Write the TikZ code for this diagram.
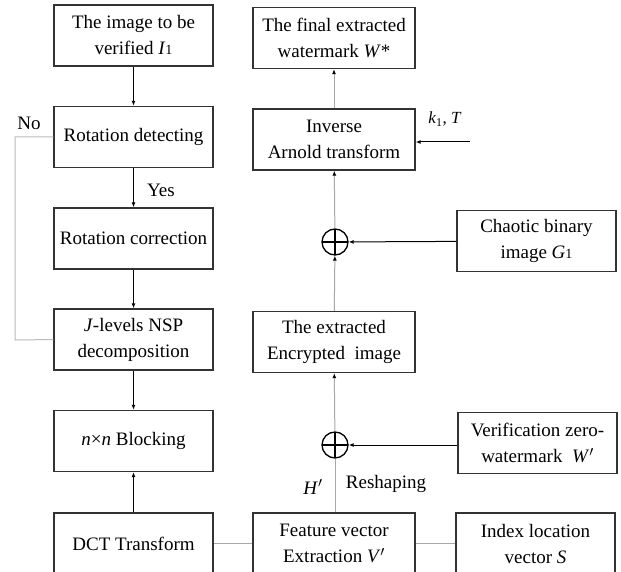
\documentclass[tikz,border=0pt]{standalone}
\usepackage{fontspec}
\setmainfont{Liberation Serif}
\usetikzlibrary{arrows.meta}
\definecolor{boxc}{HTML}{333333}
\definecolor{linec}{HTML}{A8A8A8}
\definecolor{loopc}{HTML}{BBBBBB}
\tikzset{
  box/.style={draw=boxc, line width=1.3pt, minimum height=61pt, inner sep=0pt, align=center, font=\fontsize{19}{26}\selectfont},
  lbox/.style={box, minimum width=159pt},
  mbox/.style={box, minimum width=162pt},
  rbox/.style={box, minimum width=159pt},
  xorc/.style={draw=black, line width=1.3pt, circle, minimum size=26pt, inner sep=0pt, path picture={\draw[line width=1.3pt] (path picture bounding box.north) -- (path picture bounding box.south) (path picture bounding box.west) -- (path picture bounding box.east);}},
  darr/.style={draw=black, line width=1pt, -{Latex[length=5pt,width=4pt]}},
  garr/.style={draw=linec, line width=1pt, -{Latex[length=5pt,width=4pt,color=black]}},
  gline/.style={draw=linec, line width=1pt},
  lbl/.style={font=\fontsize{19}{22}\selectfont, inner sep=0pt}
}
\begin{document}
\begin{tikzpicture}[x=1pt,y=-1pt]
\useasboundingbox (0,0) rectangle (621,572);
\clip (0,0) rectangle (621,572);
\fill[white] (0,0) rectangle (621,572);
% left column
\node[lbox] (b1) at (133.5,35.5) {The image to be\\verified \textit{I}{\fontsize{14}{14}\selectfont 1}};
\node[lbox] (b2) at (133.5,137) {Rotation detecting};
\node[lbox] (b3) at (133.5,238.5) {Rotation correction};
\node[lbox] (b4) at (133.5,339.5) {\textit{J}-levels NSP\\decomposition};
\node[lbox] (b5) at (133.5,441) {\textit{n}×\textit{n} Blocking};
\node[lbox] (b6) at (133.5,543.5) {DCT Transform};
% middle column
\node[mbox] (m1) at (334,38) {The final extracted\\watermark \textit{W}*};
\node[mbox] (m2) at (334,139.5) {Inverse\\Arnold transform};
\node[xorc] (x1) at (335,242) {};
\node[mbox] (m3) at (334,342) {The extracted\\Encrypted\ \ image};
\node[xorc] (x2) at (335,445) {};
\node[mbox] (m4) at (334,543.5) {Feature vector\\Extraction \textit{V}$'$};
% right column
\node[rbox] (r1) at (536.5,241) {Chaotic binary\\image \textit{G}{\fontsize{14}{14}\selectfont 1}};
\node[rbox] (r2) at (537.5,443) {Verification zero-\\watermark\ \ \textit{W}$'$};
\node[rbox] (r3) at (535.5,543.5) {Index location\\vector \textit{S}};
% labels
\node[lbl] (no) at (29,123) {No};
\node[lbl] (yes) at (161,190) {Yes};
\node[lbl, font=\fontsize{17}{20}\selectfont] (kt) at (445,119) {\textit{k}\textsubscript{1}, \textit{T}};
\node[lbl] (hp) at (313,487) {\textit{H}$'$};
\node[lbl] (resh) at (386,484) {Reshaping};
\coordinate (kin) at (470,142);
% left connectors
\draw[darr] (b1) -- (b2);
\draw[darr] (b2) -- (b3);
\draw[darr] (b3) -- (b4);
\draw[darr] (b4) -- (b5);
\draw[darr] (b6) -- (b5);
\draw[draw=loopc, line width=1pt] (b2.west) -- (15,137) -- (15,340) -- (b4.west);
% middle connectors
\draw[garr] (m2) -- (m1);
\draw[garr] (x1) -- (m2);
\draw[garr] (m3) -- (x1);
\draw[garr] (x2) -- (m3);
\draw[gline] (m4.north -| x2) -- (x2);
\draw[darr] (r1) -- (x1);
\draw[darr] (r2.west |- x2) -- (x2);
\draw[darr] (kin) -- (kin -| m2.east);
\draw[gline] (b6) -- (m4);
\draw[gline] (m4) -- (r3);
\end{tikzpicture}
\end{document}
